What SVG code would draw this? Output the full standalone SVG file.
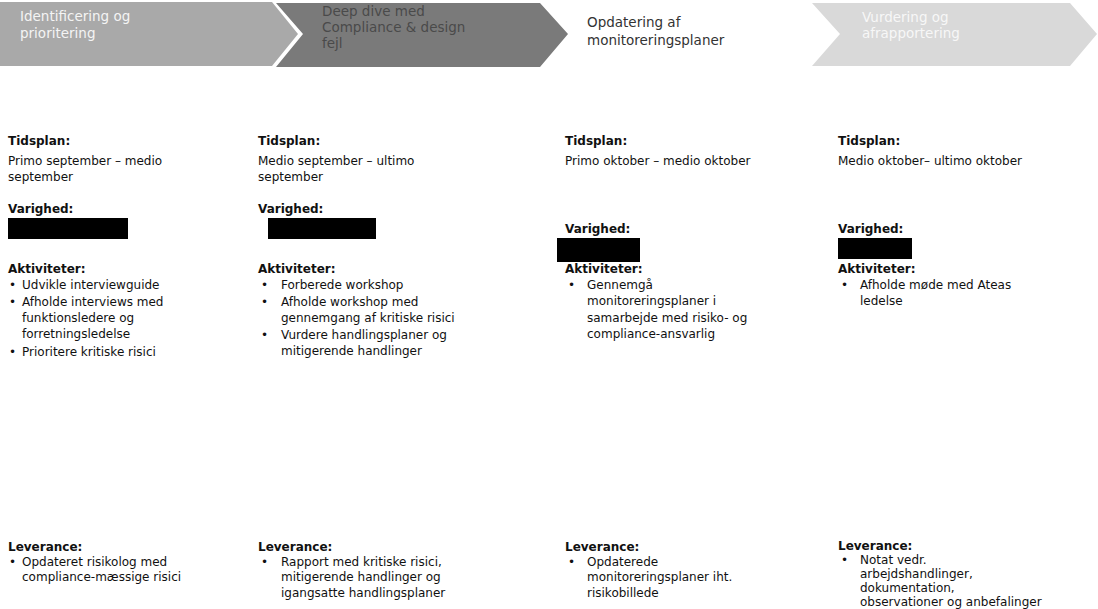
<svg xmlns="http://www.w3.org/2000/svg" width="1098" height="609" viewBox="0 0 1098 609">
<style>
  text { font-family: "DejaVu Sans", Verdana, sans-serif; fill: #111; }
  .h { font-size: 12px; font-weight: bold; }
  .t { font-size: 12px; }
  .c { font-size: 13.5px; }
  .redact { fill: #000; }
</style>
<rect width="1098" height="609" fill="#fff"/>
<g id="chevrons">
  <g id="step1">
    <polygon points="0,2 272,2 298,34 272,66 0,66" fill="#a9a9a9"/>
    <text class="c" x="20" y="21" style="fill:#f4f4f4">Identificering og</text>
    <text class="c" x="20" y="38" style="fill:#f4f4f4">prioritering</text>
  </g>
  <g id="step2">
    <polygon points="276,3 540,3 568,34 540,67 276,67 303,34" fill="#7a7a7a"/>
    <text class="c" x="322" y="16" style="fill:#4a4a4a">Deep dive med</text>
    <text class="c" x="322" y="32" style="fill:#4a4a4a">Compliance &amp; design</text>
    <text class="c" x="322" y="48" style="fill:#4a4a4a">fejl</text>
  </g>
  <g id="step3">
    <text class="c" x="587" y="27" style="fill:#333">Opdatering af</text>
    <text class="c" x="587" y="45" style="fill:#333">monitoreringsplaner</text>
  </g>
  <g id="step4">
    <polygon points="812,3 1070,3 1097,34 1070,66 812,66 840,34" fill="#d9d9d9"/>
    <text class="c" x="862" y="22" style="fill:#f7f7f7">Vurdering og</text>
    <text class="c" x="862" y="38" style="fill:#f7f7f7">afrapportering</text>
  </g>
</g>
<g id="col1">
  <text class="h" x="8" y="145">Tidsplan:</text>
  <text class="t" x="8" y="165">Primo september – medio</text>
  <text class="t" x="8" y="181">september</text>
  <text class="h" x="8" y="213">Varighed:</text>
  <rect class="redact" x="8" y="218" width="120" height="21"/>
  <text class="h" x="8" y="273">Aktiviteter:</text>
  <text class="t" x="9" y="289">•</text><text class="t" x="22" y="289">Udvikle interviewguide</text>
  <text class="t" x="9" y="306">•</text><text class="t" x="22" y="306">Afholde interviews med</text>
  <text class="t" x="22" y="322">funktionsledere og</text>
  <text class="t" x="22" y="338">forretningsledelse</text>
  <text class="t" x="9" y="356">•</text><text class="t" x="22" y="356">Prioritere kritiske risici</text>
  <text class="h" x="8" y="551">Leverance:</text>
  <text class="t" x="9" y="566">•</text><text class="t" x="22" y="566">Opdateret risikolog med</text>
  <text class="t" x="22" y="581">compliance-mæssige risici</text>
</g>
<g id="col2">
  <text class="h" x="258" y="145">Tidsplan:</text>
  <text class="t" x="258" y="165">Medio september – ultimo</text>
  <text class="t" x="258" y="181">september</text>
  <text class="h" x="258" y="213">Varighed:</text>
  <rect class="redact" x="268" y="218" width="108" height="21"/>
  <text class="h" x="258" y="273">Aktiviteter:</text>
  <text class="t" x="261" y="289">•</text><text class="t" x="281" y="289">Forberede workshop</text>
  <text class="t" x="261" y="306">•</text><text class="t" x="281" y="306">Afholde workshop med</text>
  <text class="t" x="281" y="322">gennemgang af kritiske risici</text>
  <text class="t" x="261" y="339">•</text><text class="t" x="281" y="339">Vurdere handlingsplaner og</text>
  <text class="t" x="281" y="355">mitigerende handlinger</text>
  <text class="h" x="258" y="551">Leverance:</text>
  <text class="t" x="261" y="566">•</text><text class="t" x="281" y="566">Rapport med kritiske risici,</text>
  <text class="t" x="281" y="581">mitigerende handlinger og</text>
  <text class="t" x="281" y="597">igangsatte handlingsplaner</text>
</g>
<g id="col3">
  <text class="h" x="565" y="145">Tidsplan:</text>
  <text class="t" x="565" y="165">Primo oktober – medio oktober</text>
  <text class="h" x="565" y="233">Varighed:</text>
  <rect class="redact" x="557" y="238" width="83" height="24"/>
  <text class="h" x="565" y="273">Aktiviteter:</text>
  <text class="t" x="568" y="289">•</text><text class="t" x="587" y="289">Gennemgå</text>
  <text class="t" x="587" y="305">monitoreringsplaner i</text>
  <text class="t" x="587" y="322">samarbejde med risiko- og</text>
  <text class="t" x="587" y="338">compliance-ansvarlig</text>
  <text class="h" x="565" y="551">Leverance:</text>
  <text class="t" x="568" y="566">•</text><text class="t" x="587" y="566">Opdaterede</text>
  <text class="t" x="587" y="581">monitoreringsplaner iht.</text>
  <text class="t" x="587" y="597">risikobillede</text>
</g>
<g id="col4">
  <text class="h" x="838" y="145">Tidsplan:</text>
  <text class="t" x="838" y="165">Medio oktober– ultimo oktober</text>
  <text class="h" x="838" y="233">Varighed:</text>
  <rect class="redact" x="838" y="238" width="74" height="21"/>
  <text class="h" x="838" y="273">Aktiviteter:</text>
  <text class="t" x="841" y="289">•</text><text class="t" x="860" y="289">Afholde møde med Ateas</text>
  <text class="t" x="860" y="305">ledelse</text>
  <text class="h" x="838" y="550">Leverance:</text>
  <text class="t" x="841" y="564">•</text><text class="t" x="860" y="564">Notat vedr.</text>
  <text class="t" x="860" y="578">arbejdshandlinger,</text>
  <text class="t" x="860" y="592">dokumentation,</text>
  <text class="t" x="860" y="606">observationer og anbefalinger</text>
</g>
</svg>
